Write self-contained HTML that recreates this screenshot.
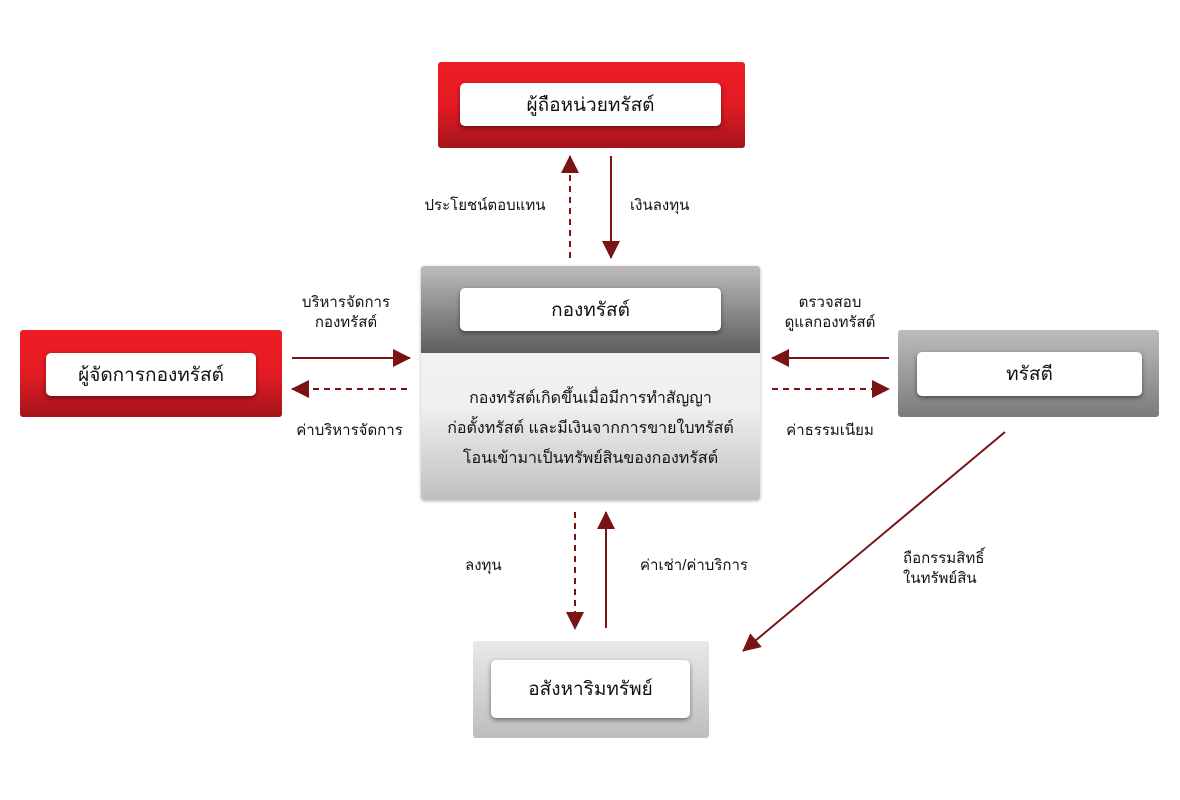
<!DOCTYPE html>
<html><head><meta charset="utf-8"><style>
body{margin:0;width:1180px;height:800px;background:#fff;position:relative;overflow:hidden;font-family:"Liberation Sans","Noto Sans CJK SC",sans-serif;color:#111}
.b{position:absolute;border-radius:3px}
.red{background:linear-gradient(#ee1c25 0%,#e41b24 50%,#a3141a 100%)}
.gray{background:linear-gradient(#bdbcbb,#7b7b7b)}
.lg{background:linear-gradient(#e9e9e9,#bdbdbd)}
.w{position:absolute;background:#fff;border-radius:5px;box-shadow:0 2px 5px rgba(0,0,0,.45);display:flex;align-items:center;justify-content:center;font-size:19px}
.t{position:absolute;font-size:15px;text-align:center;line-height:20px;white-space:nowrap}
</style></head><body>
<div class="b red" style="left:438px;top:62px;width:307px;height:86px"></div>
<div class="w" style="left:460px;top:83px;width:261px;height:43px">ผู้ถือหน่วยทรัสต์</div>

<div class="b red" style="left:20px;top:330px;width:262px;height:87px"></div>
<div class="w" style="left:46px;top:353px;width:210px;height:43px">ผู้จัดการกองทรัสต์</div>

<div class="b" style="left:421px;top:266px;width:339px;height:234px;background:linear-gradient(#f3f3f3 0%,#f0f0f0 60%,#bfbfbf 100%);box-shadow:0 1px 3px rgba(0,0,0,.3)"></div>
<div class="b" style="left:421px;top:266px;width:339px;height:87px;border-radius:3px 3px 0 0;background:linear-gradient(#bdbcbb,#5d5d5d)"></div>
<div class="w" style="left:460px;top:288px;width:261px;height:43px">กองทรัสต์</div>
<div class="t" style="left:421px;width:339px;top:384px;line-height:30px;font-size:16px">กองทรัสต์เกิดขึ้นเมื่อมีการทำสัญญา<br>ก่อตั้งทรัสต์ และมีเงินจากการขายใบทรัสต์<br>โอนเข้ามาเป็นทรัพย์สินของกองทรัสต์</div>

<div class="b gray" style="left:898px;top:330px;width:261px;height:87px"></div>
<div class="w" style="left:917px;top:352px;width:225px;height:44px">ทรัสตี</div>

<div class="b lg" style="left:473px;top:641px;width:236px;height:97px"></div>
<div class="w" style="left:491px;top:660px;width:199px;height:58px">อสังหาริมทรัพย์</div>

<svg width="1180" height="800" style="position:absolute;left:0;top:0">
<defs><marker id="a" markerWidth="10" markerHeight="10" refX="9" refY="5" orient="auto" markerUnits="userSpaceOnUse" viewBox="0 0 10 10"><path d="M0,0L10,5L0,10z" fill="#7a1315"/></marker>
<marker id="h" viewBox="0 0 18 18" refX="17" refY="9" markerWidth="18" markerHeight="18" orient="auto" markerUnits="userSpaceOnUse"><path d="M0,0L18,9L0,18z" fill="#7a1315"/></marker></defs>
<g stroke="#7a1315" stroke-width="2" fill="none">
<line x1="570" y1="258" x2="570" y2="156" stroke-dasharray="6,5" marker-end="url(#h)"/>
<line x1="611" y1="156" x2="611" y2="258" marker-end="url(#h)"/>
<line x1="292" y1="358" x2="410" y2="358" marker-end="url(#h)"/>
<line x1="407" y1="389" x2="292" y2="389" stroke-dasharray="6,5" marker-end="url(#h)"/>
<line x1="889" y1="358" x2="772" y2="358" marker-end="url(#h)"/>
<line x1="772" y1="389" x2="889" y2="389" stroke-dasharray="6,5" marker-end="url(#h)"/>
<line x1="575" y1="512" x2="575" y2="629" stroke-dasharray="6,5" marker-end="url(#h)"/>
<line x1="606" y1="628" x2="606" y2="512" marker-end="url(#h)"/>
<line x1="1005" y1="432" x2="743" y2="651" marker-end="url(#h)"/>
</g></svg>

<div class="t" style="left:420px;top:196px;width:130px">ประโยชน์ตอบแทน</div>
<div class="t" style="left:630px;top:196px">เงินลงทุน</div>
<div class="t" style="left:286px;top:293px;width:120px">บริหารจัดการ<br>กองทรัสต์</div>
<div class="t" style="left:282px;top:421px;width:135px">ค่าบริหารจัดการ</div>
<div class="t" style="left:770px;top:293px;width:120px">ตรวจสอบ<br>ดูแลกองทรัสต์</div>
<div class="t" style="left:770px;top:421px;width:120px">ค่าธรรมเนียม</div>
<div class="t" style="left:465px;top:556px">ลงทุน</div>
<div class="t" style="left:640px;top:556px">ค่าเช่า/ค่าบริการ</div>
<div class="t" style="left:903px;top:549px;text-align:left">ถือกรรมสิทธิ์<br>ในทรัพย์สิน</div>
</body></html>
